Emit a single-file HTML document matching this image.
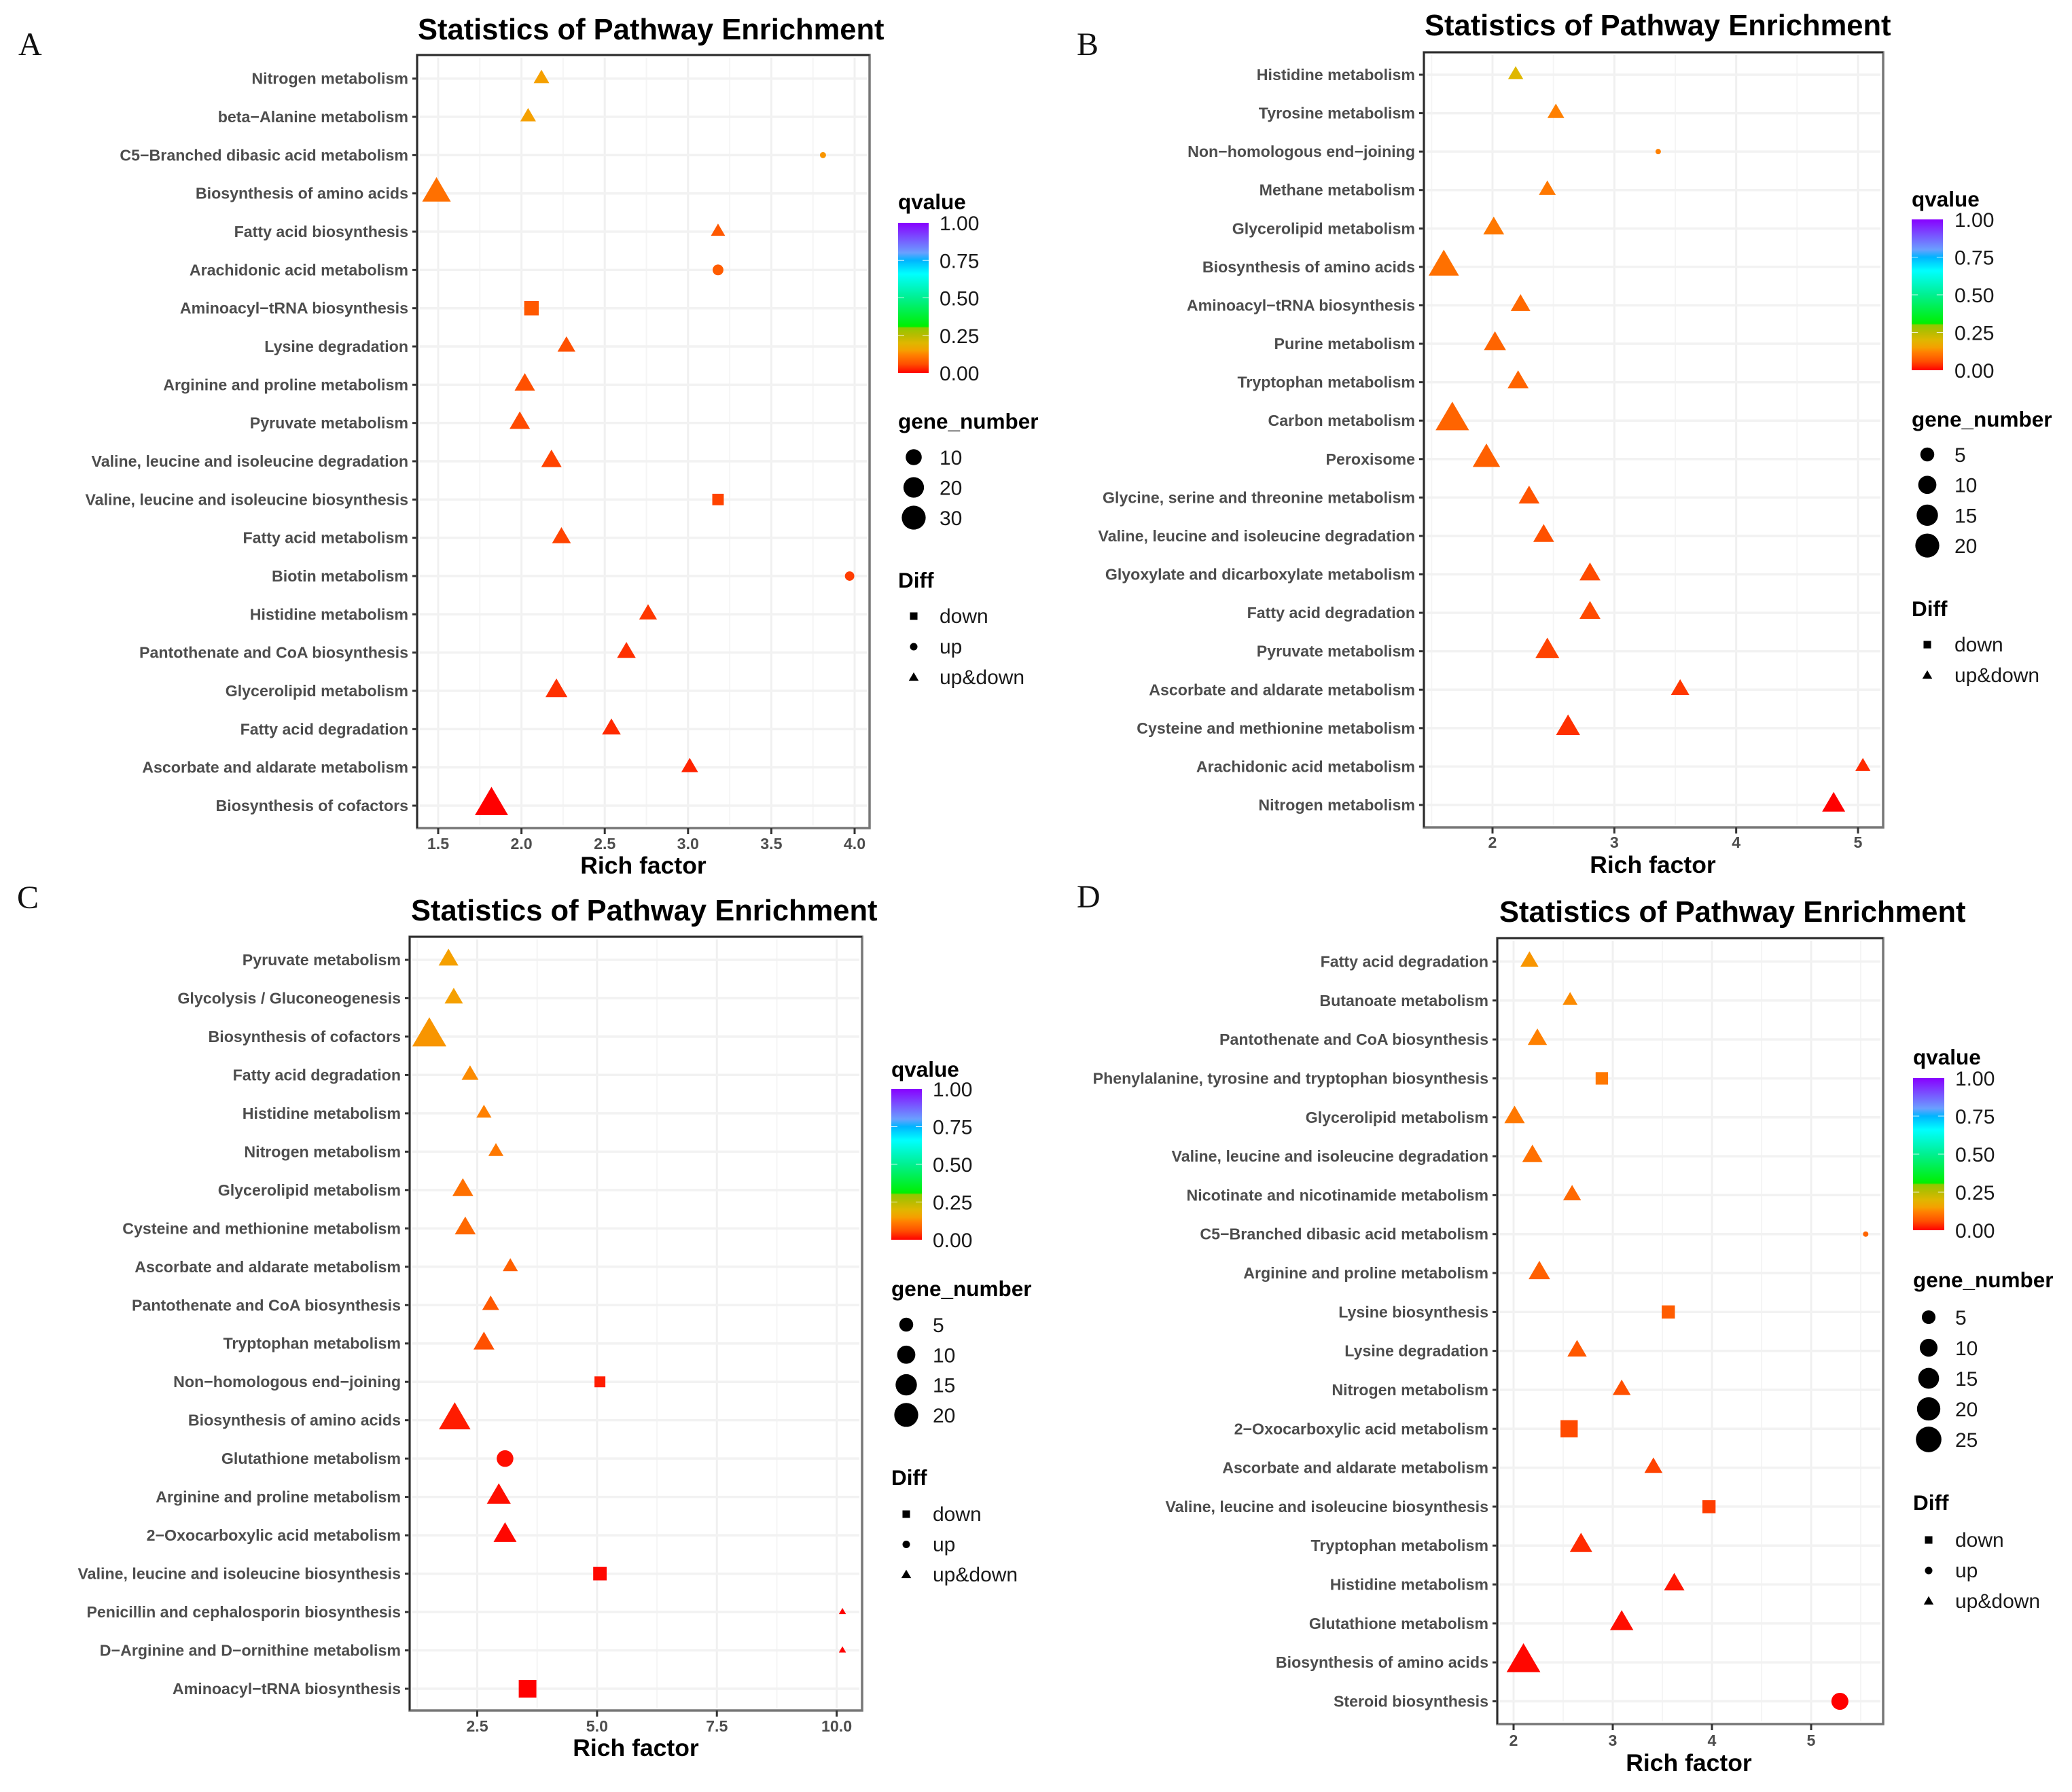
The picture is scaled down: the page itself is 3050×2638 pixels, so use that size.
<!DOCTYPE html>
<html lang="en">
<head>
<meta charset="utf-8">
<title>Statistics of Pathway Enrichment</title>
<style>
html,body{margin:0;padding:0;background:#fff;}
svg{display:block;}
text{font-family:"Liberation Sans",sans-serif;}
</style>
</head>
<body>
<svg id="figure" xmlns="http://www.w3.org/2000/svg" width="3050" height="2638" viewBox="0 0 3050 2638">
<rect x="0" y="0" width="3050" height="2638" fill="#ffffff"/>
</svg>
<script>
/* ---------- Panel A data ---------- */
const categoriesA = ["Nitrogen metabolism","beta−Alanine metabolism","C5−Branched dibasic acid metabolism","Biosynthesis of amino acids","Fatty acid biosynthesis","Arachidonic acid metabolism","Aminoacyl−tRNA biosynthesis","Lysine degradation","Arginine and proline metabolism","Pyruvate metabolism","Valine, leucine and isoleucine degradation","Valine, leucine and isoleucine biosynthesis","Fatty acid metabolism","Biotin metabolism","Histidine metabolism","Pantothenate and CoA biosynthesis","Glycerolipid metabolism","Fatty acid degradation","Ascorbate and aldarate metabolism","Biosynthesis of cofactors"];
const richFactorA = [2.12,2.04,3.81,1.49,3.18,3.18,2.06,2.27,2.02,1.99,2.18,3.18,2.24,3.97,2.76,2.63,2.21,2.54,3.01,1.82];
const qvalueA = [0.15,0.15,0.14,0.10,0.07,0.075,0.07,0.06,0.06,0.055,0.05,0.05,0.05,0.045,0.04,0.035,0.035,0.03,0.025,0];
const geneNumberA = [4,4,1,23,3,3,12,6,9,9,9,6,7,2,6,7,11,7,5,34];
const diffA = ["up&down","up&down","up","up&down","up&down","up","down","up&down","up&down","up&down","up&down","down","up&down","up","up&down","up&down","up&down","up&down","up&down","up&down"];
const xTicksA = [1.5,2,2.5,3,3.5,4];
const xTickLabelsA = ["1.5","2.0","2.5","3.0","3.5","4.0"];
const xMinorTicksA = [1.75,2.25,2.75,3.25,3.75];
const sizeBreaksA = [10,20,30];
const diffLevelsA = ["down","up","up&down"];

/* ---------- Panel B data ---------- */
const categoriesB = ["Histidine metabolism","Tyrosine metabolism","Non−homologous end−joining","Methane metabolism","Glycerolipid metabolism","Biosynthesis of amino acids","Aminoacyl−tRNA biosynthesis","Purine metabolism","Tryptophan metabolism","Carbon metabolism","Peroxisome","Glycine, serine and threonine metabolism","Valine, leucine and isoleucine degradation","Glyoxylate and dicarboxylate metabolism","Fatty acid degradation","Pyruvate metabolism","Ascorbate and aldarate metabolism","Cysteine and methionine metabolism","Arachidonic acid metabolism","Nitrogen metabolism"];
const richFactorB = [2.19,2.52,3.36,2.45,2.01,1.60,2.23,2.02,2.21,1.67,1.95,2.30,2.42,2.80,2.80,2.45,3.54,2.62,5.04,4.80];
const qvalueB = [0.2,0.12,0.12,0.11,0.11,0.10,0.09,0.085,0.085,0.085,0.08,0.065,0.06,0.055,0.055,0.05,0.04,0.035,0.03,0];
const geneNumberB = [3,4,1,4,7,18,6,8,7,23,14,7,7,7,7,10,5,10,3,9];
const diffB = ["up&down","up&down","up","up&down","up&down","up&down","up&down","up&down","up&down","up&down","up&down","up&down","up&down","up&down","up&down","up&down","up&down","up&down","up&down","up&down"];
const xTicksB = [2,3,4,5];
const xTickLabelsB = ["2","3","4","5"];
const xMinorTicksB = [1.5,2.5,3.5,4.5];
const sizeBreaksB = [5,10,15,20];
const diffLevelsB = ["down","up&down"];

/* ---------- Panel C data ---------- */
const categoriesC = ["Pyruvate metabolism","Glycolysis / Gluconeogenesis","Biosynthesis of cofactors","Fatty acid degradation","Histidine metabolism","Nitrogen metabolism","Glycerolipid metabolism","Cysteine and methionine metabolism","Ascorbate and aldarate metabolism","Pantothenate and CoA biosynthesis","Tryptophan metabolism","Non−homologous end−joining","Biosynthesis of amino acids","Glutathione metabolism","Arginine and proline metabolism","2−Oxocarboxylic acid metabolism","Valine, leucine and isoleucine biosynthesis","Penicillin and cephalosporin biosynthesis","D−Arginine and D−ornithine metabolism","Aminoacyl−tRNA biosynthesis"];
const richFactorC = [1.90,2.01,1.50,2.35,2.64,2.89,2.20,2.25,3.19,2.78,2.64,5.06,2.03,3.08,2.95,3.08,5.06,10.12,10.12,3.55];
const qvalueC = [0.15,0.15,0.14,0.13,0.12,0.11,0.10,0.09,0.08,0.07,0.06,0.02,0.02,0.01,0.01,0.005,0.005,0,0,0];
const geneNumberC = [6,5,24,4,3,3,7,7,3,4,7,4,20,8,10,9,7,1,1,14];
const diffC = ["up&down","up&down","up&down","up&down","up&down","up&down","up&down","up&down","up&down","up&down","up&down","down","up&down","up","up&down","up&down","down","up&down","up&down","down"];
const xTicksC = [2.5,5,7.5,10];
const xTickLabelsC = ["2.5","5.0","7.5","10.0"];
const xMinorTicksC = [1.25,3.75,6.25,8.75];
const sizeBreaksC = [5,10,15,20];
const diffLevelsC = ["down","up","up&down"];

/* ---------- Panel D data ---------- */
const categoriesD = ["Fatty acid degradation","Butanoate metabolism","Pantothenate and CoA biosynthesis","Phenylalanine, tyrosine and tryptophan biosynthesis","Glycerolipid metabolism","Valine, leucine and isoleucine degradation","Nicotinate and nicotinamide metabolism","C5−Branched dibasic acid metabolism","Arginine and proline metabolism","Lysine biosynthesis","Lysine degradation","Nitrogen metabolism","2−Oxocarboxylic acid metabolism","Ascorbate and aldarate metabolism","Valine, leucine and isoleucine biosynthesis","Tryptophan metabolism","Histidine metabolism","Glutathione metabolism","Biosynthesis of amino acids","Steroid biosynthesis"];
const richFactorD = [2.16,2.57,2.24,2.89,2.01,2.19,2.59,5.55,2.26,3.56,2.64,3.09,2.56,3.41,3.97,2.68,3.62,3.09,2.10,5.29];
const qvalueD = [0.14,0.13,0.12,0.11,0.11,0.10,0.09,0.085,0.08,0.075,0.07,0.06,0.055,0.05,0.045,0.03,0.015,0.01,0.005,0];
const geneNumberD = [5,3,6,6,7,7,5,1,8,7,6,5,14,5,7,9,7,10,25,9];
const diffD = ["up&down","up&down","up&down","down","up&down","up&down","up&down","up","up&down","down","up&down","up&down","down","up&down","down","up&down","up&down","up&down","up&down","up"];
const xTicksD = [2,3,4,5];
const xTickLabelsD = ["2","3","4","5"];
const xMinorTicksD = [2.5,3.5,4.5,5.5];
const sizeBreaksD = [5,10,15,20,25];
const diffLevelsD = ["down","up","up&down"];

/* ---------- Shared colour scale ---------- */
const qStops = [0,0.03,0.06,0.10,0.12,0.15,0.20,0.25,0.30,0.31,0.50,0.66,0.75,0.80,1];
const qStopColors = ["#ff0000","#ff2a00","#ff5000","#ff7000","#ff8000","#f5a000","#dfb700","#b8bc00","#90c800","#00f000","#00f090","#00ffff","#00b4ff","#6aa0ff","#8800ff"];
const qTicks = [0,0.25,0.5,0.75,1];
const qTickLabels = ["0.00","0.25","0.50","0.75","1.00"];

const NS = "http://www.w3.org/2000/svg";
const svg = document.getElementById("figure");

function hexToRgb(h){return [parseInt(h.slice(1,3),16),parseInt(h.slice(3,5),16),parseInt(h.slice(5,7),16)];}
function qColor(q){
  for(let i=1;i<qStops.length;i++){
    if(q<=qStops[i]){
      const t=(q-qStops[i-1])/(qStops[i]-qStops[i-1]);
      const a=hexToRgb(qStopColors[i-1]),b=hexToRgb(qStopColors[i]);
      return "rgb("+a.map((v,k)=>Math.round(v+(b[k]-v)*t)).join(",")+")";
    }
  }
  return qStopColors[qStopColors.length-1];
}
function make(tag,attrs,parent){
  const el=document.createElementNS(NS,tag);
  for(const k in attrs){el.setAttribute(k,attrs[k]);}
  (parent||svg).appendChild(el);
  return el;
}
function label(str,x,y,size,weight,fill,anchor,parent,family){
  const el=make("text",{x:x,y:y,"font-size":size,"font-weight":weight,fill:fill,"text-anchor":anchor},parent);
  if(family){el.style.fontFamily=family;}
  el.textContent=str;
  return el;
}

/* colour bar gradient built from the stops above */
const defs=make("defs",{});
const grad=make("linearGradient",{id:"qGradient",x1:0,y1:1,x2:0,y2:0},defs);
qStops.forEach((s,i)=>{make("stop",{offset:s,"stop-color":qStopColors[i]},grad);});

function triangle(cx,cy,d,fill,parent){
  const w=d*1.32;
  return make("polygon",{points:(cx-w/2)+","+(cy+d*0.38)+" "+(cx+w/2)+","+(cy+d*0.38)+" "+cx+","+(cy-d*0.75),fill:fill},parent);
}
function square(cx,cy,d,fill,parent){
  const s=d*0.85;
  return make("rect",{x:cx-s/2,y:cy-s/2,width:s,height:s,fill:fill},parent);
}
function circle(cx,cy,d,fill,parent){
  return make("circle",{cx:cx,cy:cy,r:d/2,fill:fill},parent);
}

function drawPanel(L,categories,richFactor,qvalue,geneNumber,diff,xTicks,xTickLabels,xMinorTicks,sizeBreaks,diffLevels){
  const g=make("g",{});
  
  

  const xScale=v=>L.xPxA+(v-L.xValA)*(L.xPxB-L.xPxA)/(L.xValB-L.xValA);
  const yScale=i=>L.rowTop+i*(L.rowBottom-L.rowTop)/(categories.length-1);
  const sizeScale=n=>L.d0+(L.d1-L.d0)*Math.sqrt(Math.max(0,n-L.nMin)/(L.nMax-L.nMin));

  const letter=label(L.letter,L.letterX,L.letterY,48,"normal","#111","start",g,'"Liberation Serif",serif');
  
  

  const title=label("Statistics of Pathway Enrichment",L.titleX,L.titleY,43.5,"bold","#000","start",g);
  
  

  xMinorTicks.forEach(v=>{
    const el=make("line",{x1:xScale(v),x2:xScale(v),y1:L.top+4,y2:L.bottom-4,stroke:"#f5f5f5","stroke-width":2},g);
    
    
  });
  xTicks.forEach(v=>{
    const el=make("line",{x1:xScale(v),x2:xScale(v),y1:L.top+4,y2:L.bottom-4,stroke:"#f0f0f0","stroke-width":3},g);
    
    
  });
  categories.forEach((c,i)=>{
    const y=yScale(i);
    const gl=make("line",{x1:L.left+4,x2:L.right-4,y1:y,y2:y,stroke:"#f2f2f2","stroke-width":3.5},g);
    
    
    const tk=make("line",{x1:L.left-7,x2:L.left,y1:y,y2:y,stroke:"#333","stroke-width":3},g);
    
    
    const t=label(c,L.left-13,y+8,23.2,"bold","#4d4d4d","end",g);
    
    
  });

  const border=make("rect",{x:L.left,y:L.top,width:L.right-L.left,height:L.bottom-L.top,fill:"none",stroke:"#777","stroke-width":3.5},g);
  
  
  const borderDark=make("polyline",{points:L.left+","+L.bottom+" "+L.left+","+L.top+" "+L.right+","+L.top,fill:"none",stroke:"#2b2b2b","stroke-width":2.5},g);
  
  

  xTicks.forEach((v,i)=>{
    const x=xScale(v);
    const tk=make("line",{x1:x,x2:x,y1:L.bottom,y2:L.bottom+9,stroke:"#333","stroke-width":3},g);
    
    
    const t=label(xTickLabels[i],x,L.tickBase,23.2,"bold","#4d4d4d","middle",g);
    
    
  });
  const xt=label("Rich factor",L.xTitleX,L.xTitleBase,35.5,"bold","#000","middle",g);
  
  

  categories.forEach((c,i)=>{
    const cx=xScale(richFactor[i]),cy=yScale(i),d=sizeScale(geneNumber[i]),col=qColor(qvalue[i]);
    let m;
    if(diff[i]==="down"){m=square(cx,cy,d,col,g);}
    else if(diff[i]==="up"){m=circle(cx,cy,d,col,g);}
    else{m=triangle(cx,cy,d,col,g);}
    
    
  });

  /* legends */
  const lg=make("g",{},g);
  
  

  const qt=label("qvalue",L.cbLeft,L.qTitleY+10,31.5,"bold","#000","start",lg);
  
  
  const cb=make("rect",{x:L.cbLeft,y:L.cbTop,width:L.cbRight-L.cbLeft,height:L.cbBottom-L.cbTop,fill:"url(#qGradient)"},lg);
  
  
  const qY=q=>L.cbBottom-q*(L.cbBottom-L.cbTop);
  const cbW=L.cbRight-L.cbLeft;
  qTicks.forEach((q,i)=>{
    const t=label(qTickLabels[i],L.legendTextX,qY(q)+11,30,"normal","#1a1a1a","start",lg);
    
    
    if(q>0&&q<1){
      const a=make("line",{x1:L.cbLeft,x2:L.cbLeft+cbW/5,y1:qY(q),y2:qY(q),stroke:"#fff","stroke-width":1,opacity:0.8},lg);
      
      
      const b=make("line",{x1:L.cbRight-cbW/5,x2:L.cbRight,y1:qY(q),y2:qY(q),stroke:"#fff","stroke-width":1,opacity:0.8},lg);
      
      
    }
  });

  const gt=label("gene_number",L.cbLeft,L.geneTitleY+10,31.5,"bold","#000","start",lg);
  
  
  sizeBreaks.forEach((n,i)=>{
    const y=L.sizeFirstY+i*L.sizeStep;
    const c=circle(L.symbolX,y,sizeScale(n),"#000",lg);
    
    
    const t=label(String(n),L.legendTextX,y+11,30,"normal","#1a1a1a","start",lg);
    
    
  });

  const dt=label("Diff",L.cbLeft,L.diffTitleY+10,31.5,"bold","#000","start",lg);
  
  
  diffLevels.forEach((lv,i)=>{
    const y=L.diffFirstY+i*L.diffStep;
    let k;
    if(lv==="down"){k=square(L.symbolX,y,13,"#000",lg);}
    else if(lv==="up"){k=circle(L.symbolX,y,11,"#000",lg);}
    else{k=triangle(L.symbolX,y+1,11,"#000",lg);}
    
    
    const t=label(lv,L.legendTextX,y+10,30,"normal","#1a1a1a","start",lg);
    
    
  });
}

drawPanel({letter:"A",letterX:27,letterY:81,titleX:615,titleY:58,left:614,right:1280,top:81,bottom:1219,
  xValA:1.5,xPxA:645,xValB:4,xPxB:1258,rowTop:115.7,rowBottom:1186,tickBase:1250,xTitleX:947,xTitleBase:1286,
  d0:9,d1:37,nMin:1,nMax:34,cbLeft:1322,cbRight:1367,cbTop:328,cbBottom:549,legendTextX:1383,qTitleY:298,geneTitleY:621,
  sizeFirstY:673,sizeStep:44.5,diffTitleY:855,diffFirstY:907,diffStep:45,symbolX:1345},
  categoriesA,richFactorA,qvalueA,geneNumberA,diffA,xTicksA,xTickLabelsA,xMinorTicksA,sizeBreaksA,diffLevelsA);

drawPanel({letter:"B",letterX:1585,letterY:81,titleX:2097,titleY:52,left:2096,right:2772,top:77,bottom:1218,
  xValA:2,xPxA:2197,xValB:5,xPxB:2735,rowTop:110,rowBottom:1185,tickBase:1248,xTitleX:2433,xTitleBase:1285,
  d0:8,d1:38,nMin:1,nMax:24,cbLeft:2814,cbRight:2860,cbTop:323,cbBottom:545,legendTextX:2877,qTitleY:294,geneTitleY:618,
  sizeFirstY:669,sizeStep:44.7,diffTitleY:897,diffFirstY:949,diffStep:45,symbolX:2837},
  categoriesB,richFactorB,qvalueB,geneNumberB,diffB,xTicksB,xTickLabelsB,xMinorTicksB,sizeBreaksB,diffLevelsB);

drawPanel({letter:"C",letterX:25,letterY:1337,titleX:605,titleY:1355,left:603,right:1269,top:1379,bottom:2518,
  xValA:2.5,xPxA:702.5,xValB:10,xPxB:1231.6,rowTop:1413,rowBottom:2486,tickBase:2549,xTitleX:936,xTitleBase:2585,
  d0:8,d1:38,nMin:1,nMax:24,cbLeft:1312,cbRight:1357,cbTop:1603,cbBottom:1825,legendTextX:1373,qTitleY:1575,geneTitleY:1898,
  sizeFirstY:1950,sizeStep:44.3,diffTitleY:2176,diffFirstY:2229,diffStep:44.5,symbolX:1334},
  categoriesC,richFactorC,qvalueC,geneNumberC,diffC,xTicksC,xTickLabelsC,xMinorTicksC,sizeBreaksC,diffLevelsC);

drawPanel({letter:"D",letterX:1585,letterY:1336,titleX:2207,titleY:1357,left:2204,right:2772,top:1381,bottom:2538,
  xValA:2,xPxA:2228,xValB:5,xPxB:2666,rowTop:1415.5,rowBottom:2504.5,tickBase:2570,xTitleX:2486,xTitleBase:2607,
  d0:8,d1:40,nMin:1,nMax:29,cbLeft:2816,cbRight:2862,cbTop:1587,cbBottom:1811,legendTextX:2878,qTitleY:1557,geneTitleY:1885,
  sizeFirstY:1939,sizeStep:45,diffTitleY:2213,diffFirstY:2267,diffStep:45,symbolX:2839},
  categoriesD,richFactorD,qvalueD,geneNumberD,diffD,xTicksD,xTickLabelsD,xMinorTicksD,sizeBreaksD,diffLevelsD);
</script>
</body>
</html>
